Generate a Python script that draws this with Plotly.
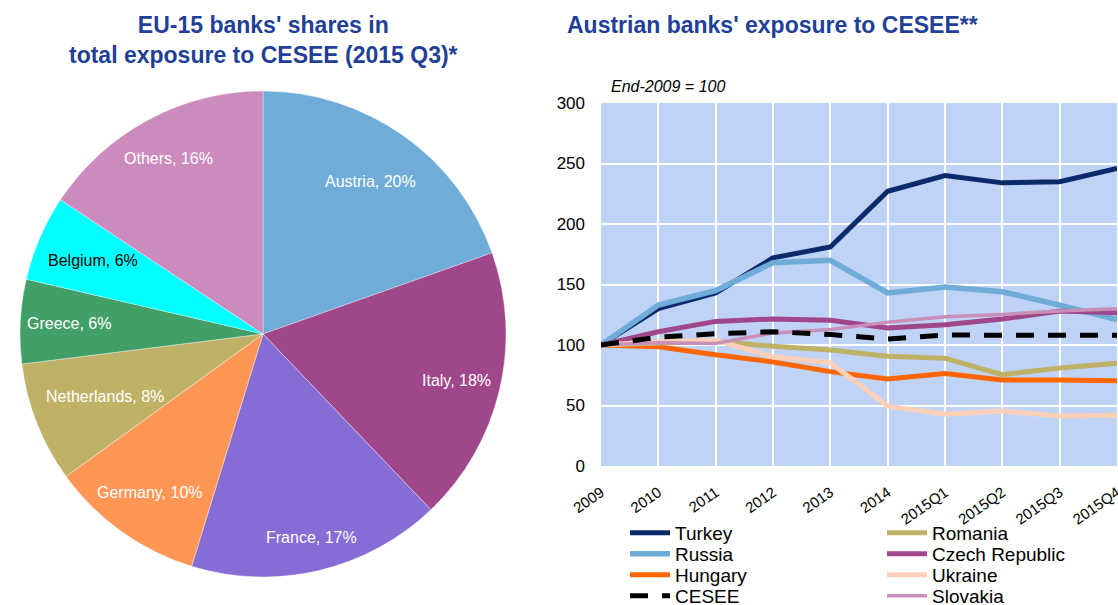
import math
import plotly.graph_objects as go

# ---- Pie data ----
pie_labels = ["Austria", "Italy", "France", "Germany", "Netherlands", "Greece", "Belgium", "Others"]
pie_values = [19.6, 18.3, 16.9, 10.3, 8.0, 5.6, 5.7, 15.7]
pie_colors = ["#6FACD8", "#A0468A", "#876CD6", "#FF9655", "#BFB267", "#41A067", "#00FFFF", "#CB8BBC"]
pie_text_colors = ["white", "white", "white", "white", "white", "white", "black", "white"]
pie_label_radius = [0.77, 0.82, 0.86, 0.80, 0.70, 0.80, 0.76, 0.82]  # style: label distance from centre

# ---- Line data ----
periods = ["2009", "2010", "2011", "2012", "2013", "2014", "2015Q1", "2015Q2", "2015Q3", "2015Q4"]
turkey = [100, 130, 143, 172, 181, 227, 240, 234, 235, 246]
russia = [100, 133, 145, 168, 170, 143, 148, 144, 133, 121]
hungary = [100, 98.6, 92, 86, 78, 72, 76.5, 71, 71, 70.5]
cesee = [100, 106.5, 109.3, 111, 108.7, 105, 108.2, 107.9, 108, 108]
romania = [100, 102, 103, 99, 95.8, 90.8, 89, 75.5, 81, 85]
czech = [100, 111, 119.5, 121.5, 120.5, 114, 116.7, 121.5, 128, 126.7]
ukraine = [100, 102.7, 104, 90.3, 85.4, 49.5, 42.7, 45.4, 41.3, 42]
slovakia = [100, 101.9, 101.3, 110, 112.9, 118.9, 123.4, 125.3, 128, 130]
yticks = [0, 50, 100, 150, 200, 250, 300]

W, H = 1118, 605
TITLE_COLOR = "#1F3F99"
FONT = "Liberation Sans, Arial, sans-serif"

# pie geometry (pixels)
PCX, PCY, PR = 263, 334, 243
pie_dom_x = [(PCX - PR) / W, (PCX + PR) / W]
pie_dom_y = [(H - PCY - PR) / H, (H - PCY + PR) / H]

fig = go.Figure()

fig.add_trace(go.Pie(
    labels=pie_labels, values=pie_values, sort=False, direction="clockwise", rotation=0,
    marker=dict(colors=pie_colors, line=dict(color="rgba(255,255,255,0.6)", width=0.6)),
    textinfo="none", showlegend=False, hoverinfo="label+percent",
    domain=dict(x=pie_dom_x, y=pie_dom_y),
))

annotations = []
total = sum(pie_values)
cum = 0.0
for lab, v, tc, rf in zip(pie_labels, pie_values, pie_text_colors, pie_label_radius):
    mid = (cum + v / 2) / total * 2 * math.pi
    cum += v
    px = PCX + PR * rf * math.sin(mid)
    py = PCY - PR * rf * math.cos(mid)
    annotations.append(dict(
        text=f"{lab}, {round(v / total * 100):d}%", x=px / W, y=1 - py / H,
        xref="paper", yref="paper", xanchor="center", yanchor="middle",
        showarrow=False, font=dict(size=16, color=tc)))

series = [
    ("Turkey", turkey, "#0B2A6B", 5, "solid"),
    ("Russia", russia, "#6FACD8", 5.5, "solid"),
    ("Hungary", hungary, "#FF6600", 5, "solid"),
    ("Romania", romania, "#BFB267", 5, "solid"),
    ("Czech Republic", czech, "#A0468A", 5, "solid"),
    ("Ukraine", ukraine, "#FFD0B8", 5, "solid"),
    ("Slovakia", slovakia, "#C890B8", 3.5, "solid"),
    ("CESEE", cesee, "#000000", 5, "18px,14px"),
]
# legend slots: (column, row)
legend_slot = {"Turkey": (0, 0), "Russia": (0, 1), "Hungary": (0, 2), "CESEE": (0, 3),
               "Romania": (1, 0), "Czech Republic": (1, 1), "Ukraine": (1, 2), "Slovakia": (1, 3)}
col_x = [625, 882]
row_y = [533, 554, 575, 596]

legend_layouts = {}
for i, (name, vals, col, w, dash) in enumerate(series):
    lname = "legend" if i == 0 else f"legend{i + 1}"
    fig.add_trace(go.Scatter(
        x=periods, y=vals, mode="lines", name=name, legend=lname,
        line=dict(color=col, width=w, dash=dash), xaxis="x", yaxis="y",
    ))
    c, r = legend_slot[name]
    legend_layouts[lname] = dict(
        x=col_x[c] / W, xanchor="left", y=1 - row_y[r] / H, yanchor="middle",
        font=dict(size=19, color="black"), itemwidth=40, bgcolor="rgba(0,0,0,0)",
        borderwidth=0)

annotations += [
    dict(text="<b>EU-15 banks' shares in<br>total exposure to CESEE (2015 Q3)*</b>",
         x=PCX / W, y=1 - 10 / H, xref="paper", yref="paper", xanchor="center", yanchor="top",
         showarrow=False, font=dict(size=23, color=TITLE_COLOR)),
    dict(text="<b>Austrian banks' exposure to CESEE**</b>",
         x=565 / W, y=1 - 10 / H, xref="paper", yref="paper", xanchor="left", yanchor="top",
         showarrow=False, font=dict(size=23, color=TITLE_COLOR)),
    dict(text="<i>End-2009 = 100</i>",
         x=609 / W, y=1 - 86 / H, xref="paper", yref="paper", xanchor="left", yanchor="middle",
         showarrow=False, font=dict(size=16, color="black")),
]

fig.update_layout(
    width=W, height=H,
    margin=dict(l=0, r=0, t=0, b=0, autoexpand=False),
    paper_bgcolor="white", plot_bgcolor="#BFD3F7",
    font=dict(family=FONT, color="black"),
    xaxis=dict(domain=[601 / W, 1117 / W], type="category", range=[0, 9],
               showgrid=True, gridcolor="white", gridwidth=2, zeroline=False,
               tickangle=-35, tickfont=dict(size=15), ticks="", showline=False,
               ticklabelstandoff=14),
    yaxis=dict(domain=[(H - 466) / H, (H - 103) / H], range=[0, 300], tickvals=yticks,
               showgrid=True, gridcolor="white", gridwidth=2, zeroline=False,
               tickfont=dict(size=17), ticks="", showline=False,
               ticklabelstandoff=15),
    annotations=annotations,
    **legend_layouts,
)

fig.write_html("out.html", config={"displayModeBar": False},
               post_script="document.body.style.margin='0px';document.body.style.overflow='hidden';")
